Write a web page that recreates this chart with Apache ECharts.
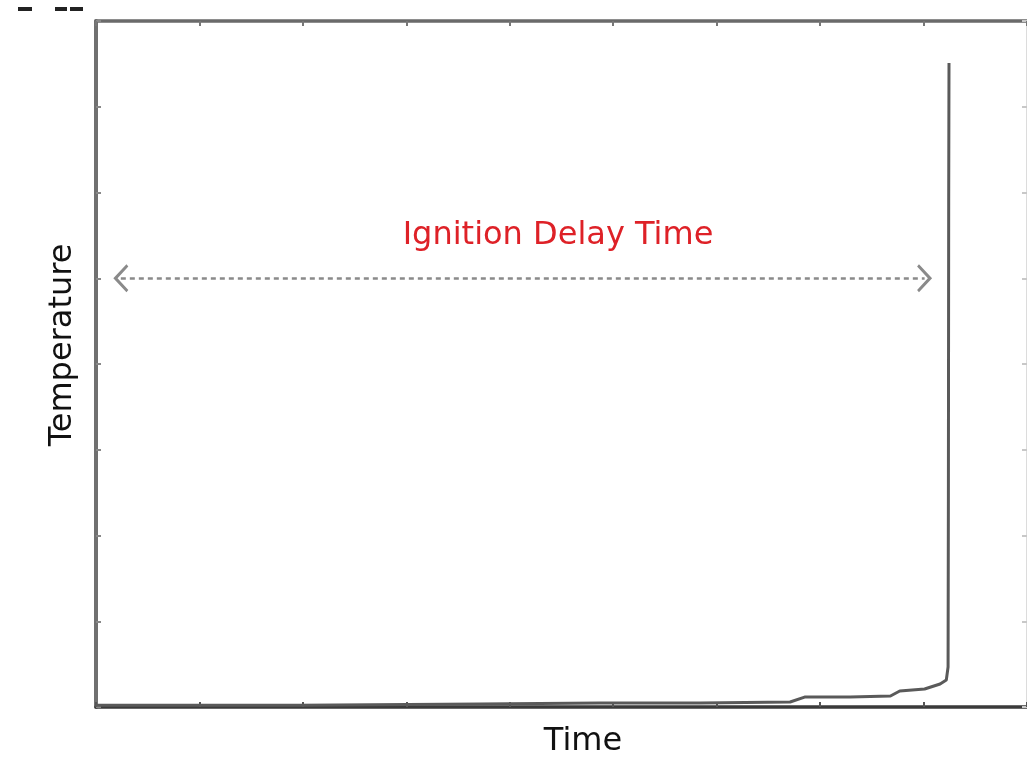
<!DOCTYPE html>
<html>
<head>
<meta charset="utf-8">
<script src="https://cdn.jsdelivr.net/npm/echarts@6/dist/echarts.min.js"></script>
<style>
html,body{margin:0;padding:0;background:#fff;}
#chart{width:1027px;height:758px;}
</style>
</head>
<body>
<div id="chart"></div>
<script>
// ---- data ----
const timeValues = [0, 1.97, 3.71, 4.87, 5.84, 6.71, 6.85, 7.29, 7.68, 7.77, 8.01, 8.16, 8.22, 8.237, 8.24, 8.243, 8.246];
const temperatureValues = [0.02, 0.02, 0.035, 0.047, 0.047, 0.058, 0.116, 0.116, 0.128, 0.186, 0.21, 0.268, 0.314, 0.466, 2.4, 5.9, 7.51];
const xAxisRange = [0, 9];
const yAxisRange = [0, 8];
const arrowLevel = 5;
const arrowStart = 0.24;
const arrowEnd = 8.01;
const annotationText = 'Ignition Delay Time';
const xAxisTitle = 'Time';
const yAxisTitle = 'Temperature';

const seriesData = timeValues.map((t, i) => [t, temperatureValues[i]]);

const chart = echarts.init(document.getElementById('chart'), null, {renderer: 'canvas'});
const fontFamily = '"DejaVu Sans", sans-serif';
const chevron = 'path://M0,14 L15,0 L30,14 L27.5,16 L15,4.5 L2.5,16 Z';

function axisBase(pos, lineColor, lineWidth, tickColor) {
  return {
    type: 'value',
    position: pos,
    axisLine: {show: true, onZero: false, lineStyle: {color: lineColor, width: lineWidth}},
    axisTick: {show: true, inside: true, length: 5, lineStyle: {color: tickColor, width: 2}},
    axisLabel: {show: false},
    splitLine: {show: false}
  };
}

const option = {
  animation: false,
  backgroundColor: '#ffffff',
  grid: {left: 96, top: 21, right: 0, bottom: 51, containLabel: false},
  xAxis: [
    Object.assign(axisBase('bottom', '#3a3a3a', 3.5, '#555'), {min: xAxisRange[0], max: xAxisRange[1], interval: 1}),
    Object.assign(axisBase('top', '#6a6a6a', 3.5, '#777'), {min: xAxisRange[0], max: xAxisRange[1], interval: 1})
  ],
  yAxis: [
    Object.assign(axisBase('left', '#707070', 4, '#888'), {min: yAxisRange[0], max: yAxisRange[1], interval: 1}),
    Object.assign(axisBase('right', '#d0d0d0', 1.5, '#c8c8c8'), {min: yAxisRange[0], max: yAxisRange[1], interval: 1})
  ],
  series: [{
    type: 'line',
    data: seriesData,
    xAxisIndex: 0,
    yAxisIndex: 0,
    showSymbol: false,
    symbol: 'none',
    smooth: false,
    lineStyle: {color: '#5a5a5a', width: 3},
    silent: true,
    markLine: {
      silent: true,
      symbol: [chevron, chevron],
      symbolSize: [28, 15],
      label: {show: false},
      emphasis: {disabled: true},
      lineStyle: {color: '#8a8a8a', width: 2.5, type: [5, 4]},
      data: [[
        {coord: [arrowStart, arrowLevel]},
        {coord: [arrowEnd, arrowLevel]}
      ]]
    }
  }],
  graphic: [
    {type: 'text', left: 'center', style: {text: ''}},
    {
      type: 'text', x: 558, y: 236,
      style: {text: annotationText, fill: '#de2127', font: '32px ' + fontFamily, align: 'center', verticalAlign: 'middle'}
    },
    {
      type: 'text', x: 583, y: 742,
      style: {text: xAxisTitle, fill: '#111', font: '32px ' + fontFamily, align: 'center', verticalAlign: 'middle'}
    },
    {
      type: 'text', x: 63, y: 345, rotation: Math.PI / 2,
      style: {text: yAxisTitle, fill: '#111', font: '32px ' + fontFamily, align: 'center', verticalAlign: 'middle'}
    },
    {type: 'rect', shape: {x: 18, y: 7, width: 14, height: 4}, style: {fill: '#222'}},
    {type: 'rect', shape: {x: 55, y: 7, width: 12, height: 4}, style: {fill: '#222'}},
    {type: 'rect', shape: {x: 70, y: 7, width: 13, height: 4}, style: {fill: '#222'}}
  ]
};
chart.setOption(option);
</script>
</body>
</html>
